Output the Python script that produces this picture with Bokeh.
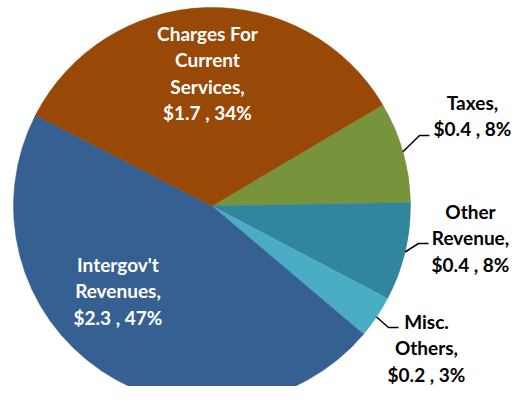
import math
from bokeh.plotting import figure
from bokeh.models import Range1d, ColumnDataSource
from bokeh.core.properties import value
from bokeh.embed import file_html
from bokeh.resources import INLINE

# ---- data ----
categories = ["Taxes", "Other Revenue", "Misc. Others", "Intergov't Revenues",
              "Charges For Current Services"]
amounts = ["$0.4", "$0.4", "$0.2", "$2.3", "$1.7"]
pct_labels = ["8%", "8%", "3%", "47%", "34%"]
shares = [8.25, 8.0, 3.45, 46.4, 33.9]          # estimated slice sizes (%)
label_lines = [["Taxes,"], ["Other", "Revenue,"], ["Misc.", "Others,"],
               ["Intergov't", "Revenues,"], ["Charges For", "Current", "Services,"]]
colors = ["#77933C", "#31859C", "#4BACC6", "#376092", "#984807"]
inside = [False, False, False, True, True]

# ---- layout (image pixel coords, y down) ----
PW, PH = 511, 386
def Y(py):
    return PH - py

cx, cy, R = 211.5, Y(205.5), 198.5
start_deg = 1.0
ccw_order = [0, 4, 3, 2, 1]   # counter-clockwise drawing order from start angle
label_pos = [(472, 102), (470, 211), (426, 321), (117.5, 264), (207, 33)]
line_step = 26.3
elbows = {0: ((419, 135), (429, 135)), 1: ((418, 243), (428, 243)), 2: ((388, 327), (398, 327))}

p = figure(width=PW, height=PH, output_backend="svg", toolbar_location=None,
           x_range=Range1d(0, PW), y_range=Range1d(0, PH), min_border=0)
p.axis.visible = False
p.grid.visible = False
p.outline_line_color = None
p.background_fill_color = "white"

starts = [0.0] * 5
ends = [0.0] * 5
mids = [0.0] * 5
a = math.radians(start_deg)
for i in ccw_order:
    d = shares[i] / 100.0 * 2 * math.pi
    starts[i] = a
    ends[i] = a + d
    mids[i] = a + d / 2
    a += d

src = ColumnDataSource(dict(start=starts, end=ends, color=colors))
p.wedge(x=cx, y=cy, radius=R, start_angle="start", end_angle="end",
        fill_color="color", line_color="color", line_width=0.5,
        direction="anticlock", source=src)

# leader lines
xs, ys = [], []
for i, (elb, end) in elbows.items():
    sx = cx + R * math.cos(mids[i])
    sy = cy + R * math.sin(mids[i])
    xs.append([sx, elb[0], end[0]])
    ys.append([sy, Y(elb[1]), Y(end[1])])
p.multi_line(xs=xs, ys=ys, line_color="black", line_width=1.5)

# labels
tx, ty, tt, tc = [], [], [], []
for i in range(len(categories)):
    lines = label_lines[i] + [f"{amounts[i]} , {pct_labels[i]}"]
    x0, y0 = label_pos[i]
    for k, ln in enumerate(lines):
        tx.append(x0)
        ty.append(Y(y0 + k * line_step))
        tt.append(ln)
        tc.append("white" if inside[i] else "black")
p.text(x=tx, y=ty, text=tt, text_color=tc, text_font=value("Lato"),
       text_font_style="bold", text_font_size="19px",
       text_align="center", text_baseline="middle")

open("out.html", "w").write(file_html(p, INLINE))
